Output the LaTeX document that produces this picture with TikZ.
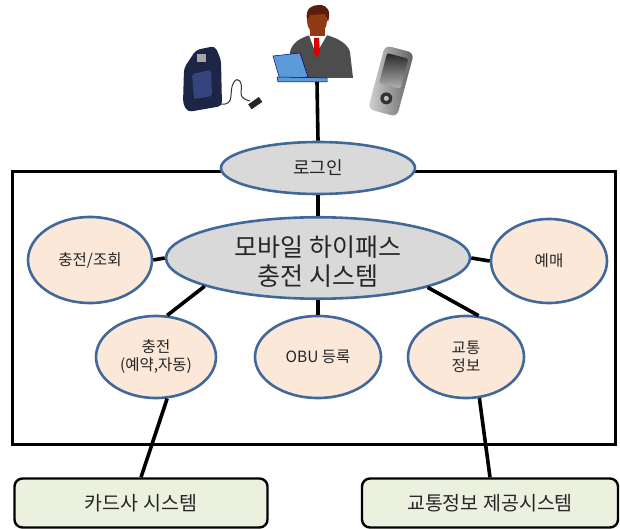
\documentclass[tikz,border=0pt]{standalone}
\usepackage{fontspec}
\setmainfont{Noto Sans CJK KR}
\usetikzlibrary{shapes.geometric}
\definecolor{edgeblue}{HTML}{41689A}
\definecolor{grayfill}{HTML}{D9D9D9}
\definecolor{peach}{HTML}{FCE8D8}
\definecolor{sysgreen}{HTML}{EBF1DE}
\definecolor{inkgray}{HTML}{262626}
\definecolor{suitgray}{HTML}{4D4D4D}
\definecolor{skin}{HTML}{8E3B16}
\definecolor{hairbrown}{HTML}{5A1E0C}
\definecolor{laptopblue}{HTML}{5B9BDA}
\definecolor{pdanavy}{HTML}{1C2546}
\definecolor{pdascreen}{HTML}{34457E}
\begin{document}
\begin{tikzpicture}[x=1pt,y=-1pt,
  bubble/.style={ellipse, draw=edgeblue, line width=2.6pt, inner sep=0pt,
    align=center, text=inkgray},
  hub/.style={bubble, fill=grayfill},
  leaf/.style={bubble, fill=peach, font=\fontsize{15.5}{18}\selectfont},
  sysbox/.style={draw=black, line width=2.4pt, rounded corners=8pt,
    fill=sysgreen, text=inkgray, inner sep=0pt,
    font=\fontsize{19.5}{22}\selectfont},
  link/.style={line width=3.6pt, black}]
\useasboundingbox (0,0) rectangle (620,529);

% system boundary
\draw[line width=3pt] (12,172) rectangle (615,444);

% user with laptop
\fill[suitgray] (288,78) -- (290,52) .. controls (292,43) and (300,38) .. (310,35)
  -- (326,35) .. controls (338,38) and (348,44) .. (350,52) -- (353,78) -- cycle;
\fill[white] (309,35) -- (316,54) -- (327,35) -- cycle;
\fill[red!85!black] (314,38) -- (319,38) -- (320,52) -- (317,58) -- (314,52) -- cycle;
\fill[skin] (310,26) rectangle (325,36);
\fill[skin] (317,21) ellipse (10 and 13);
\fill[hairbrown] (307,20) .. controls (305,8) and (312,5) .. (319,5)
  .. controls (328,5) and (331,11) .. (328,22) -- (325,14) -- (310,15) -- cycle;
\fill[laptopblue, draw=blue!45!black, line width=0.5pt]
  (273,56) -- (300,53) -- (308,77) -- (280,80) -- cycle;
\fill[laptopblue, draw=blue!45!black, line width=0.5pt]
  (277,77) -- (327,78) -- (327,82) -- (278,82) -- cycle;
\coordinate (stand) at (317,82);

% handheld terminal with charger cable
\fill[pdanavy, rounded corners=4pt] (184,68) -- (196,50) -- (215,46) -- (221,60)
  -- (222,106) -- (188,112) -- (183,104) -- cycle;
\fill[gray!70] (197,54) rectangle (206,62);
\fill[pdascreen, rounded corners=2pt] (192,74) -- (211,70) -- (212,96) -- (194,99) -- cycle;
\draw[black!80, line width=1pt] (221,104) .. controls (236,106) and (228,90) .. (234,82)
  .. controls (238,76) and (243,82) .. (241,92) .. controls (240,98) and (246,100) .. (250,101);
\fill[black!85, rotate around={35:(254,104)}] (249,101) rectangle (262,107);

% mobile phone
\begin{scope}[shift={(391,81)}, rotate=-15]
  \shade[left color=gray!35, right color=gray!75!black, rounded corners=6pt]
    (-15,-33) rectangle (15,33);
  \shade[top color=black!85, bottom color=gray!60, rounded corners=2pt]
    (-11,-26) rectangle (11,5);
  \fill[black!80] (0,18) circle (6);
  \fill[gray!50] (0,18) circle (2.5);
\end{scope}

% functions
\node[hub, minimum width=194pt, minimum height=52pt,
  font=\fontsize{18}{20}\selectfont] (login) at (318,168) {로그인};
\node[hub, minimum width=304pt, minimum height=74pt,
  font=\fontsize{25}{27}\selectfont] (core) at (318,258)
  {\raisebox{-6.5pt}[\height][\depth]{\begin{tabular}{@{}c@{}}모바일 하이패스\\충전 시스템\end{tabular}}};
\node[leaf, minimum width=124pt, minimum height=86pt] (inquiry) at (90,260) {충전/조회};
\node[leaf, minimum width=116pt, minimum height=84pt] (ticket) at (549,261) {예매};
\node[leaf, minimum width=120pt, minimum height=82pt] (charge) at (156,357) {충전\\(예약,자동)};
\node[leaf, minimum width=126pt, minimum height=82pt] (obu) at (318,357) {OBU 등록};
\node[leaf, minimum width=116pt, minimum height=82pt] (traffic) at (466,357) {교통\\정보};

% external systems
\node[sysbox, minimum width=253pt, minimum height=49pt] (card) at (141,503) {카드사 시스템};
\node[sysbox, minimum width=256pt, minimum height=49pt] (info) at (490,503) {교통정보 제공시스템};

% connections
\draw[link] (stand) -- (login.north);
\draw[link] (login.south) -- (core.north);
\draw[link] (core.west) -- (inquiry.east);
\draw[link] (core.east) -- (ticket.west);
\draw[link] (core.194) -- (charge.75);
\draw[link] (core.south) -- (obu.north);
\draw[link] (core.345) -- (traffic.73);
\draw[link] (charge.285) -- (card.north);
\draw[link] (traffic.288) -- (info.north);
\end{tikzpicture}
\end{document}
